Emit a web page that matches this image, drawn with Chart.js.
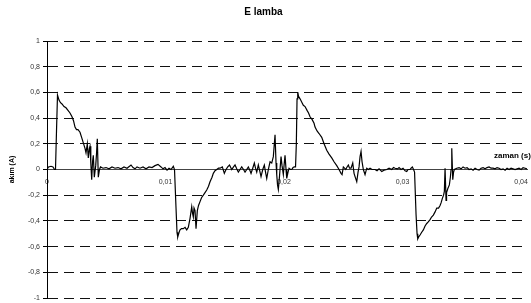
<!DOCTYPE html>
<html>
<head>
<meta charset="utf-8">
<script src="https://cdn.jsdelivr.net/npm/chart.js@4/dist/chart.umd.min.js"></script>
<style>
  body { margin: 0; background: #fff; }
  #wrap { width: 531px; height: 303px; }
</style>
</head>
<body>
<div id="wrap"><canvas id="akimChart"></canvas></div>
<script>
const chartTitle = 'E lamba';
const yTitle = 'akım (A)';
const xTitle = 'zaman (s)';

// time (s)
const zaman = [
  0, 0.000127, 0.000338, 0.000506, 0.000633, 0.000717, 0.000802, 0.000886, 0.001013, 0.001139,
  0.001266, 0.001435, 0.001603, 0.001772, 0.001941, 0.002110, 0.002236, 0.002363, 0.002489, 0.002616,
  0.002785, 0.002954, 0.003122, 0.003207, 0.003291, 0.003401, 0.003485, 0.003570, 0.003629, 0.003696,
  0.003772, 0.003840, 0.003907, 0.003992, 0.004110, 0.004177, 0.004245, 0.004329, 0.004430, 0.004515,
  0.004726, 0.004979, 0.005232, 0.005485, 0.005738, 0.005992, 0.006245, 0.006498, 0.006751, 0.006962,
  0.007089, 0.007257, 0.007426, 0.007595, 0.007848, 0.008101, 0.008354, 0.008608, 0.008861, 0.009114,
  0.009367, 0.009620, 0.009789, 0.009958, 0.010127, 0.010295, 0.010464, 0.010658, 0.010759, 0.010886,
  0.010970, 0.011030, 0.011139, 0.011224, 0.011350, 0.011502, 0.011646, 0.011789, 0.011924, 0.012068,
  0.012211, 0.012278, 0.012346, 0.012405, 0.012489, 0.012574, 0.012684, 0.012785, 0.012911, 0.013038,
  0.013190, 0.013333, 0.013477, 0.013629, 0.013755, 0.013924, 0.014034, 0.014177, 0.014321, 0.014473,
  0.014599, 0.014793, 0.014962, 0.015105, 0.015249, 0.015401, 0.015586, 0.015738, 0.015865, 0.016008,
  0.016143, 0.016287, 0.016430, 0.016582, 0.016709, 0.016852, 0.016987, 0.017131, 0.017215, 0.017359,
  0.017494, 0.017595, 0.017696, 0.017831, 0.017949, 0.018059, 0.018203, 0.018338, 0.018439, 0.018540,
  0.018675, 0.018819, 0.018962, 0.019097, 0.019181, 0.019241, 0.019325, 0.019384, 0.019451, 0.019519,
  0.019620, 0.019747, 0.019831, 0.019941, 0.020000, 0.020084, 0.020169, 0.020228, 0.020338, 0.020422,
  0.020549, 0.020650, 0.020759, 0.020869, 0.020970, 0.021038, 0.021097, 0.021156, 0.021224, 0.021350,
  0.021519, 0.021629, 0.021772, 0.021941, 0.022068, 0.022194, 0.022363, 0.022532, 0.022616, 0.022785,
  0.022954, 0.023181, 0.023376, 0.023603, 0.023797, 0.024025, 0.024219, 0.024447, 0.024641, 0.024810,
  0.024895, 0.025004, 0.025105, 0.025207, 0.025316, 0.025426, 0.025527, 0.025654, 0.025797, 0.025907,
  0.025992, 0.026135, 0.026245, 0.026329, 0.026414, 0.026498, 0.026582, 0.026692, 0.026835, 0.026979,
  0.027114, 0.027257, 0.027426, 0.027679, 0.027848, 0.028017, 0.028245, 0.028439, 0.028667, 0.028861,
  0.029089, 0.029241, 0.029367, 0.029578, 0.029705, 0.029873, 0.030042, 0.030211, 0.030354, 0.030464,
  0.030633, 0.030717, 0.030827, 0.030928, 0.031013, 0.031139, 0.031224, 0.031283, 0.031392, 0.031477,
  0.031603, 0.031755, 0.031899, 0.032042, 0.032152, 0.032321, 0.032447, 0.032599, 0.032743, 0.032886,
  0.033038, 0.033165, 0.033249, 0.033359, 0.033460, 0.033527, 0.033586, 0.033671, 0.033713, 0.033814,
  0.033949, 0.034034, 0.034093, 0.034152, 0.034236, 0.034304, 0.034371, 0.034574, 0.034768, 0.034937,
  0.035105, 0.035274, 0.035443, 0.035612, 0.035781, 0.035949, 0.036118, 0.036287, 0.036456, 0.036624,
  0.036793, 0.036962, 0.037131, 0.037300, 0.037468, 0.037637, 0.037806, 0.037975, 0.038143, 0.038312,
  0.038481, 0.038650, 0.038819, 0.038987, 0.039156, 0.039325, 0.039494, 0.039662, 0.039831, 0.040000,
  0.040169, 0.040338, 0.040506
];

// current (A)
const akim = [
  0, 0.02, 0.025, 0.02, 0, 0, 0.3, 0.58, 0.54, 0.52,
  0.51, 0.49, 0.48, 0.46, 0.44, 0.41, 0.38, 0.33, 0.31, 0.31,
  0.29, 0.24, 0.19, 0.165, 0.13, 0.20, 0.09, 0.16, 0.18, 0.05,
  -0.08, 0.06, 0.11, -0.06, 0.03, 0.12, 0.24, -0.06, 0, 0.02,
  0.01, 0.015, 0.005, 0.02, 0.01, 0.015, 0.005, 0.02, 0.01, 0.025,
  0.035, 0.015, 0.005, 0.02, 0.01, 0.02, 0.005, 0.02, 0.015, 0.03,
  0.04, 0.02, 0.005, 0.015, -0.005, 0.01, 0, 0.025, 0, -0.3,
  -0.49, -0.525, -0.49, -0.47, -0.46, -0.46, -0.45, -0.47, -0.45, -0.38,
  -0.29, -0.34, -0.37, -0.3, -0.32, -0.46, -0.32, -0.28, -0.25, -0.22,
  -0.2, -0.18, -0.16, -0.13, -0.095, -0.06, -0.03, -0.01, 0, 0.01,
  0.01, 0.02, -0.03, 0, 0.02, 0.035, 0, 0.02, 0.035, 0.005,
  -0.02, 0, 0.02, 0, -0.02, 0, 0.02, -0.01, -0.03, 0.01,
  0.05, 0.01, -0.02, 0.035, -0.01, -0.055, 0, 0.035, -0.02, -0.07,
  0, 0.06, 0.05, 0.10, 0.2, 0.27, 0.05, -0.04, -0.12, -0.155,
  -0.05, 0.10, 0.03, -0.04, 0.03, 0.11, 0, -0.07, -0.02, 0.01,
  0, 0, 0.015, 0.02, 0.02, 0.2, 0.55, 0.603, 0.57, 0.55,
  0.52, 0.50, 0.49, 0.46, 0.44, 0.41, 0.39, 0.36, 0.33, 0.30,
  0.28, 0.25, 0.20, 0.15, 0.12, 0.09, 0.06, 0.03, 0, -0.03,
  -0.04, 0.02, 0.01, 0, 0.02, 0.035, 0.01, 0.01, 0.05, -0.03,
  -0.055, -0.095, -0.02, 0.02, 0.1, 0.14, 0.06, 0, -0.04, 0.01,
  0, 0.01, 0, 0, -0.01, 0.005, -0.015, -0.005, 0, 0.01,
  0, 0.015, 0.01, 0.005, 0.015, 0, 0.01, -0.01, -0.015, 0,
  0, 0.01, 0.02, 0, -0.02, -0.35, -0.5, -0.54, -0.52, -0.51,
  -0.49, -0.47, -0.44, -0.42, -0.41, -0.39, -0.37, -0.355, -0.33, -0.30,
  -0.30, -0.28, -0.26, -0.225, -0.2, -0.17, 0.01, -0.24, -0.18, -0.15,
  -0.12, -0.06, 0, 0.165, -0.08, -0.02, 0, 0.01, 0.015, 0.005,
  0.02, 0.01, 0.015, 0, 0.005, -0.005, 0.01, 0, -0.005, 0.01,
  0.015, 0.005, 0.015, 0.02, 0.01, 0.01, 0.005, 0.015, 0.01, 0,
  0.005, -0.005, 0.01, 0, 0.01, 0.005, 0, 0.005, 0.01, 0,
  0.015, 0.01, 0.005
];

const xTicks = [0, 0.01, 0.02, 0.03, 0.04];
const xMax = 0.0405;

const fontFamily = '"Liberation Sans", Arial, sans-serif';
const comma = v => String(v).replace('.', ',');

// x-axis title sits at the right end, just above the zero line
const xTitlePlugin = {
  id: 'xTitle',
  afterDraw(chart) {
    const { ctx, chartArea, scales } = chart;
    const y0 = scales.y.getPixelForValue(0);
    ctx.save();
    ctx.font = 'bold 8px ' + fontFamily;
    ctx.fillStyle = '#000';
    ctx.textBaseline = 'middle';
    ctx.fillText(xTitle, chartArea.right - 33, y0 - 14);
    ctx.restore();
  }
};

document.addEventListener('DOMContentLoaded', () => {
  const ctx = document.getElementById('akimChart').getContext('2d');
  const points = zaman.map((t, i) => ({ x: t, y: akim[i] }));

  new Chart(ctx, {
    type: 'line',
    data: {
      datasets: [{
        data: points,
        borderColor: '#000',
        borderWidth: 1.2,
        pointRadius: 0,
        tension: 0,
        fill: false
      }]
    },
    options: {
      responsive: true,
      maintainAspectRatio: false,
      animation: false,
      layout: { padding: { top: 0, right: 4, bottom: 5, left: 0 } },
      plugins: {
        legend: { display: false },
        tooltip: { enabled: false },
        title: {
          display: true,
          text: chartTitle,
          color: '#000',
          font: { family: fontFamily, size: 10, weight: 'bold' },
          padding: { top: 6, bottom: 23 }
        }
      },
      scales: {
        x: {
          type: 'linear',
          position: { y: 0 },
          min: 0,
          max: xMax,
          afterBuildTicks: scale => { scale.ticks = xTicks.map(v => ({ value: v })); },
          afterFit: scale => { scale.paddingLeft = 0; scale.paddingRight = 0; },
          grid: { display: false, drawTicks: false },
          border: { display: true, color: '#444', width: 1 },
          ticks: {
            color: '#333',
            font: { family: fontFamily, size: 7 },
            padding: 8,
            maxRotation: 0,
            autoSkip: false,
            callback: v => comma(Math.round(v * 1000) / 1000)
          }
        },
        y: {
          min: -1,
          max: 1,
          afterFit: scale => { scale.width = 47; scale.paddingTop = 0; scale.paddingBottom = 0; },
          grid: {
            color: c => (c.tick && c.tick.value === 0) ? 'rgba(0,0,0,0)' : '#111',
            tickColor: '#000',
            tickLength: 4,
            lineWidth: 1
          },
          border: { display: true, color: '#000', width: 1, dash: [10, 6] },
          ticks: {
            stepSize: 0.2,
            color: '#333',
            padding: 3,
            font: { family: fontFamily, size: 7 },
            callback: v => comma(Math.round(v * 10) / 10)
          },
          title: {
            display: true,
            text: yTitle,
            color: '#000',
            font: { family: fontFamily, size: 7, weight: 'bold' },
            padding: { top: 8, bottom: 0 }
          }
        }
      }
    },
    plugins: [xTitlePlugin]
  });
});
</script>
</body>
</html>
